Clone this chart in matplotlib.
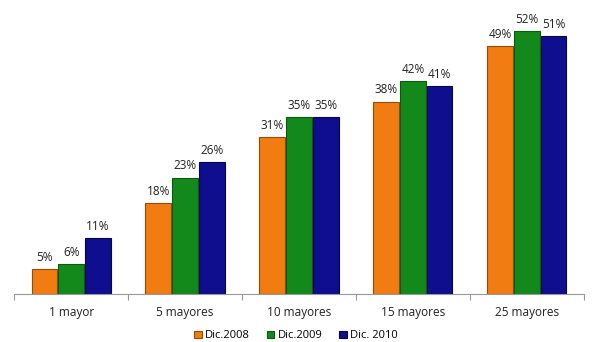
import matplotlib.pyplot as plt
import numpy as np

# Datos
categorias = ["1 mayor", "5 mayores", "10 mayores", "15 mayores", "25 mayores"]
dic2008 = [5, 18, 31, 38, 49]
dic2009 = [6, 23, 35, 42, 52]
dic2010 = [11, 26, 35, 41, 51]
series = ["Dic.2008", "Dic.2009", "Dic. 2010"]

colores = ["#F07C12", "#12891A", "#0E0E8E"]
bordes = ["#9A4A05", "#0A5A0E", "#06064F"]

plt.rcParams['font.family'] = ['Open Sans', 'DejaVu Sans']

fig = plt.figure(figsize=(5.92, 3.42), dpi=100)
ax = fig.add_axes([0.024, 0.14, 0.962, 0.815])

x = np.arange(len(categorias))
w = 0.225
handles = []
for i, (vals, nombre) in enumerate(zip([dic2008, dic2009, dic2010], series)):
    pos = x + (i - 1) * (w + 0.01)
    bars = ax.bar(pos, vals, w, color=colores[i], edgecolor=bordes[i],
                  linewidth=0.8, label=nombre)
    handles.append(bars)
    for b, v in zip(bars, vals):
        ax.text(b.get_x() + b.get_width() / 2, v + 1.0, f"{v}%",
                ha='center', va='bottom', fontsize=8.5, color='#222222')

ax.set_xlim(-0.5, len(categorias) - 0.5)
ax.set_ylim(0, 55)
ax.set_yticks([])
for s in ['top', 'right', 'left']:
    ax.spines[s].set_visible(False)
ax.spines['bottom'].set_color('#999999')
ax.set_xticks(np.arange(len(categorias) + 1) - 0.5)
ax.set_xticklabels([])
ax.tick_params(axis='x', length=4, color='#999999')
for xi, c in zip(x, categorias):
    ax.text(xi, -2.4, c, ha='center', va='top', fontsize=8.5, color='#222222')

fig.legend(handles=handles, labels=series, loc='center', bbox_to_anchor=(0.5, 0.018),
           ncol=3, frameon=False, fontsize=8, handlelength=0.7, handleheight=0.7,
           handletextpad=0.3, columnspacing=1.5)

plt.savefig('out.png', dpi=100)
